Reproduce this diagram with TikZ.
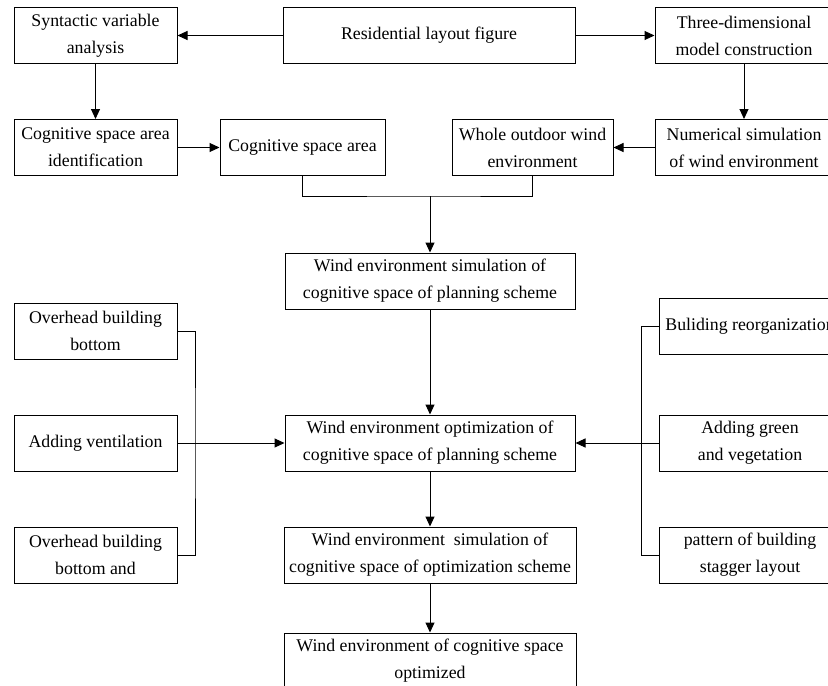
\documentclass[tikz,border=0pt]{standalone}
\usepackage{fontspec}
\setmainfont{Liberation Serif}
\usetikzlibrary{arrows.meta}

\begin{document}
\begin{tikzpicture}[x=0.5pt,y=-0.5pt,line width=0.5pt,
    box/.style={draw,rectangle,align=center,inner sep=0pt,minimum height=28pt,font=\fontsize{8.9}{13.5}\selectfont},
    arr/.style={-{Triangle[length=5pt,width=4.5pt]}}]
        \useasboundingbox (0,0) rectangle (828,685);

        \node[box,minimum width=81.5pt] at (95.5,35.5) (syn) {Syntactic variable\\analysis};
        \node[box,minimum width=146pt] at (429,35.5) (res) {Residential layout figure};
        \node[box,minimum width=89pt] at (744,35.5) (thr) {Three-dimensional\\model construction};
        \node[box,minimum width=81.5pt] at (95.5,147.5) (idn) {Cognitive space area\\identification};
        \node[box,minimum width=82.5pt] at (302.5,147.5) (area) {Cognitive space area};
        \node[box,minimum width=80.5pt] at (532.5,147.5) (whole) {Whole outdoor wind\\environment};
        \node[box,minimum width=89pt] at (744,147.5) (num) {Numerical simulation\\of wind environment};
        \node[box,minimum width=145pt] at (430,281) (simp) {Wind environment simulation of\\cognitive space of planning scheme};
        \node[box,minimum width=145pt] at (430,443) (optp) {Wind environment optimization of\\cognitive space of planning scheme};
        \node[box,minimum width=146pt] at (430,555) (simo) {Wind environment\ \ simulation of\\cognitive space of optimization scheme};
        \node[box,minimum width=146pt] at (430,661) (fin) {Wind environment of cognitive space\\optimized};
        \node[box,minimum width=81.5pt] at (95.5,331) (ob1) {Overhead building\\bottom};
        \node[box,minimum width=81.5pt] at (95.5,443) (vent) {Adding ventilation};
        \node[box,minimum width=81.5pt] at (95.5,555) (ob2) {Overhead building\\bottom and};
        \node[box,minimum width=91pt] at (750,326) (reorg) {Buliding reorganization};
        \node[box,minimum width=91pt] at (750,443) (green) {Adding green\\and vegetation};
        \node[box,minimum width=91pt] at (750,555) (pat) {pattern of building\\stagger layout};

        \coordinate (jn) at (430,196);
        \coordinate (lb) at (195,443);
        \coordinate (rb) at (641,443);

        \draw[arr] (res) -- (syn);
        \draw[arr] (res) -- (thr);
        \draw[arr] (syn) -- (idn);
        \draw[arr] (thr) -- (num);
        \draw[arr] (idn) -- (area);
        \draw[arr] (num) -- (whole);
        \draw (area.south) |- (jn) -| (whole.south);
        \draw[arr] (jn) -- (simp);
        \draw[arr] (simp) -- (optp);
        \draw[arr] (optp) -- (simo);
        \draw[arr] (simo) -- (fin);
        \draw (ob1.east) -| (lb) |- (ob2.east);
        \draw[arr] (vent) -- (optp);
        \draw (reorg.west) -| (rb) |- (pat.west);
        \draw[arr] (green) -- (optp);
    \end{tikzpicture}
\end{document}
